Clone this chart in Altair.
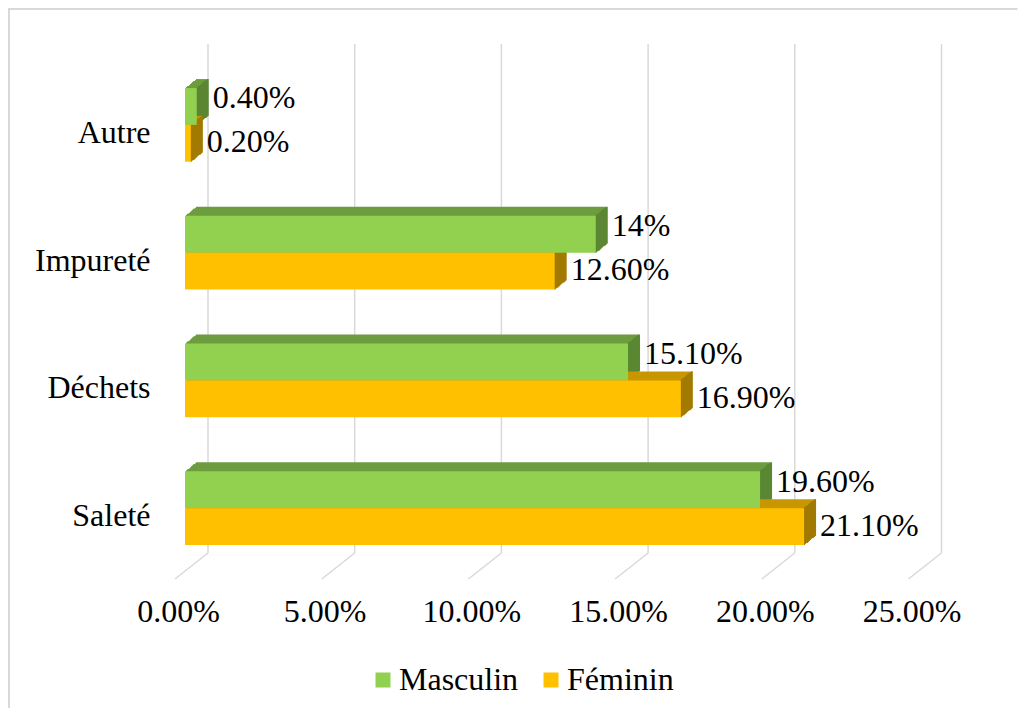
import altair as alt
import pandas as pd

categories = ["Autre", "Impureté", "Déchets", "Saleté"]
series = ["Masculin", "Féminin"]
masculin = [0.4, 14.0, 15.1, 19.6]
feminin = [0.2, 12.6, 16.9, 21.1]
masculin_labels = ["0.40%", "14%", "15.10%", "19.60%"]
feminin_labels = ["0.20%", "12.60%", "16.90%", "21.10%"]
x_ticks = [0, 5, 10, 15, 20, 25]

rows = []
for i, c in enumerate(categories):
    rows.append({"cat": c, "serie": "Masculin", "val": masculin[i], "label": masculin_labels[i]})
    rows.append({"cat": c, "serie": "Féminin", "val": feminin[i], "label": feminin_labels[i]})
df = pd.DataFrame(rows)
ticks_df = pd.DataFrame({"t": x_ticks})
one_df = pd.DataFrame({"a": [0]})

W = 733.5
H = 511
PAD_L, PAD_T, PAD_R, PAD_B = 177, 53, 99, 136
FONT = "Liberation Serif"
FS = 32
BAR_H = 36.8
HALF = BAR_H / 2

front_cols = {"Masculin": "#92D050", "Féminin": "#FFC000"}
top_cols = {"Masculin": "#6C9C3E", "Féminin": "#C89600"}
side_cols = {"Masculin": "#5B8732", "Féminin": "#A37A00"}
sub_off = {"Masculin": -HALF, "Féminin": HALF}
text_dy = {"Masculin": -8, "Féminin": -1}

x_axis = alt.Axis(title=None, domain=False, ticks=False, grid=False, values=x_ticks,
                  labelExpr="format(datum.value / 100, '.2%')", labelFont=FONT,
                  labelFontSize=FS, labelColor="black", labelPadding=24, labelOffset=-7,
                  labelFlush=False, labelOverlap=False, labelBound=False)
x_scale = alt.Scale(domain=[0, 25], nice=False, zero=True)
y_enc = alt.Y("cat:N", sort=categories,
              scale=alt.Scale(paddingInner=0.424, paddingOuter=0.212),
              axis=alt.Axis(title=None, domain=False, ticks=False, labelPadding=35,
                            labelOffset=8, labelFont=FONT, labelFontSize=FS,
                            labelColor="black"))

grid = alt.Chart(ticks_df).mark_rule(color="#D9D9D9", strokeWidth=1.5, xOffset=23).encode(
    x=alt.X("t:Q", scale=x_scale, axis=x_axis), y=alt.value(-17), y2=alt.value(492))
diag = alt.Chart(ticks_df).mark_rule(color="#D9D9D9", strokeWidth=1.5, xOffset=23, x2Offset=-10).encode(
    x=alt.X("t:Q", scale=x_scale, axis=x_axis), x2="t:Q", y=alt.value(492), y2=alt.value(518))

frame_top = alt.Chart(one_df).mark_rule(color="#D9D9D9", strokeWidth=2).encode(
    x=alt.value(-PAD_L), x2=alt.value(W + PAD_R), y=alt.value(-PAD_T + 1))
frame_left = alt.Chart(one_df).mark_rule(color="#D9D9D9", strokeWidth=2).encode(
    x=alt.value(-PAD_L + 1), y=alt.value(-PAD_T), y2=alt.value(H + PAD_B))

layers = [frame_top, frame_left, grid, diag]
N = 11
for s in series:
    sd = alt.Chart(df).transform_filter(alt.datum.serie == s)
    for i in range(1, N + 1):
        dx = i
        dy = -round(i * 9 / N)
        layers.append(sd.mark_bar(height=BAR_H, xOffset=dx, x2Offset=dx,
                                  yOffset=sub_off[s] + dy, color=top_cols[s]).encode(
            x=alt.X("val:Q", scale=x_scale, axis=x_axis), x2=alt.datum(0), y=y_enc))
    for i in range(0, N + 1):
        dx = i
        dy = -round(i * 9 / N)
        layers.append(sd.mark_bar(height=BAR_H, xOffset=dx - 1, x2Offset=dx + 1,
                                  yOffset=sub_off[s] + dy, color=side_cols[s]).encode(
            x=alt.X("val:Q", scale=x_scale, axis=x_axis), x2="val:Q", y=y_enc))

color_enc_legend = alt.Color("serie:N", sort=series,
                             scale=alt.Scale(domain=series, range=[front_cols[s] for s in series]),
                             legend=alt.Legend(title=None, orient="none", direction="horizontal",
                                               legendX=182, legendY=603, symbolType="square",
                                               symbolSize=225, symbolStrokeWidth=0,
                                               labelFont=FONT, labelFontSize=FS, labelColor="black",
                                               labelOffset=0, columnPadding=16, padding=0,
                                               labelLimit=400))
for s in series:
    sd = alt.Chart(df).transform_filter(alt.datum.serie == s)
    layers.append(sd.mark_bar(height=BAR_H, yOffset=sub_off[s]).encode(
        x=alt.X("val:Q", scale=x_scale, axis=x_axis), x2=alt.datum(0), y=y_enc,
        color=color_enc_legend))
for s in series:
    sd = alt.Chart(df).transform_filter(alt.datum.serie == s)
    layers.append(sd.mark_text(align="left", baseline="middle", dx=16,
                               yOffset=sub_off[s] + text_dy[s], font=FONT, fontSize=FS,
                               color="black").encode(
        x=alt.X("val:Q", scale=x_scale, axis=x_axis), y=y_enc, text="label:N"))

chart = alt.layer(*layers).properties(
    width=W, height=H,
    autosize=alt.AutoSizeParams(type="none"),
    padding={"left": PAD_L, "top": PAD_T, "right": PAD_R, "bottom": PAD_B},
    background="white",
).configure(font=FONT).configure_view(stroke=None).configure_text(font=FONT).configure_legend(
    labelFont=FONT).configure_axis(labelFont=FONT)

chart.save("out.html", embed_options={"renderer": "svg", "actions": False})
